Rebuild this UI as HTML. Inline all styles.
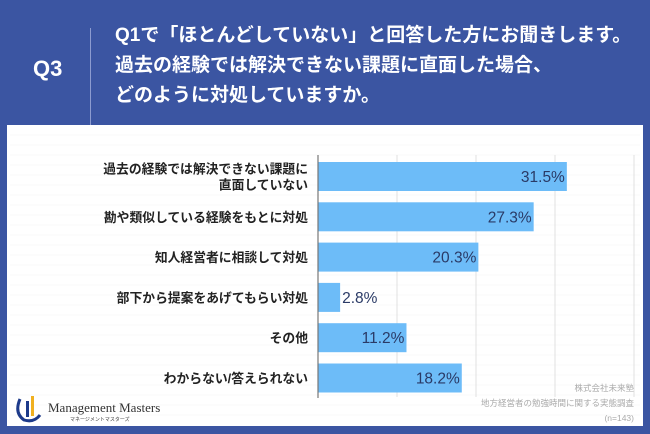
<!DOCTYPE html>
<html><head><meta charset="utf-8"><style>
body{margin:0;width:650px;height:434px;background:#3b55a2;position:relative;overflow:hidden;font-family:"Liberation Sans","Noto Sans CJK JP",sans-serif}
.hdr{position:absolute;color:#fff;font-weight:bold}
#panel{position:absolute;left:7px;top:125px;width:636px;height:301px;background:#fff}
</style></head><body>
<div class="hdr" style="left:33px;top:56px;font-size:22px">Q3</div>
<div style="position:absolute;left:90px;top:28px;width:1px;height:104px;background:#8c9bd0"></div>
<div class="hdr" style="left:115px;top:21px;font-size:19px;line-height:30px;white-space:nowrap">Q1で「ほとんどしていない」と回答した方にお聞きします。<br>過去の経験では解決できない課題に直面した場合、<br>どのように対処していますか。</div>
<div id="panel"></div>
<svg id="chart" width="650" height="434" style="position:absolute;left:0;top:0"></svg>
<div style="position:absolute;left:14px;top:393px;width:30px;height:30px">
<svg width="30" height="30"><path d="M6 6 Q0 20 10 27 Q20 30 26 22" fill="none" stroke="#1d3a8a" stroke-width="3"/><rect x="12" y="8" width="3" height="16" fill="#1d3a8a"/><rect x="17" y="3" width="3" height="20" fill="#f0b020"/></svg></div>
<div style="position:absolute;left:48px;top:400px;font-family:'Liberation Serif',serif;font-size:13px;color:#333">Management Masters</div>
<div style="position:absolute;left:70px;top:416px;font-size:5px;color:#333">マネージメントマスターズ</div>
<div style="position:absolute;right:16px;top:381px;font-size:8.5px;color:#aaa;text-align:right;line-height:15px">株式会社未来塾<br>地方経営者の勉強時間に関する実態調査<br>(n=143)</div>
<script>
const categories=["過去の経験では解決できない課題に|直面していない","勘や類似している経験をもとに対処","知人経営者に相談して対処","部下から提案をあげてもらい対処","その他","わからない/答えられない"];
const values=[31.5,27.3,20.3,2.8,11.2,18.2];
const ticks=[0,10,20,30,40];
const svg=document.getElementById('chart');const NS='http://www.w3.org/2000/svg';
const x=v=>318+v*7.9;const yTop=i=>162+i*40.3;const bh=29;
function mk(t,a){const e=document.createElementNS(NS,t);for(const k in a)e.setAttribute(k,a[k]);svg.appendChild(e);return e;}
for(let gy=135;gy<420;gy+=10){const l=mk('line',{x1:10,x2:640,y1:gy,y2:gy,stroke:'#f3f3f3','stroke-width':0.6});}
ticks.forEach(t=>{if(t===0)return;const l=mk('line',{x1:x(t),x2:x(t),y1:155,y2:397,stroke:'#e0e0e0','stroke-width':1});

});
values.forEach((v,i)=>{const y=yTop(i);
const r=mk('rect',{x:x(0),y:y,width:x(v)-x(0),height:bh,fill:'#6dbcf8'});


const inside=v>=5;
const t=mk('text',{x:inside?x(v)-2:x(v)+2,y:y+bh/2+5.5,'text-anchor':inside?'end':'start','font-size':15.5,fill:'#2a3a66'});t.textContent=v.toFixed(1)+'%';


const lines=categories[i].split('|');lines.forEach((s,j)=>{const c=mk('text',{x:308,y:y+bh/2+5-(lines.length-1)*8+j*16,'text-anchor':'end','font-size':12.8,'font-weight':'bold',fill:'#222'});c.textContent=s;

});});
const ax=mk('line',{x1:318,x2:318,y1:155,y2:398,stroke:'#777','stroke-width':1.2});


</script>
</body></html>
